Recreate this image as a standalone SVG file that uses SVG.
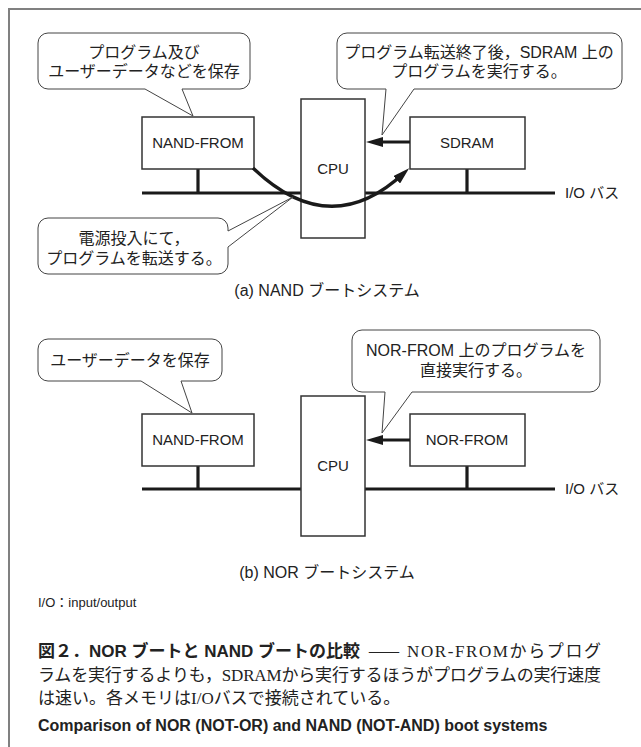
<svg xmlns="http://www.w3.org/2000/svg" width="641" height="747" viewBox="0 0 641 747">
<style>
.frame{stroke:#808080;stroke-width:2;fill:none}
.box{fill:#fff;stroke:#333;stroke-width:1.5}
.bus{stroke:#1a1a1a;stroke-width:3.2;fill:none}
.call{fill:#fff;stroke:#444;stroke-width:1}
.arr{stroke:#1a1a1a;stroke-width:3.2;fill:none}
.lbl{font-family:"Liberation Sans","Noto Sans CJK JP",sans-serif;font-size:15px;fill:#222}
.jt{font-family:"Liberation Sans","Noto Sans CJK JP",sans-serif;font-size:16px;fill:#222;text-anchor:middle}
.cap{font-family:"Liberation Sans","Noto Sans CJK JP",sans-serif;font-size:16px;fill:#222;text-anchor:middle}
.note{font-family:"Liberation Sans","Noto Sans CJK JP",sans-serif;font-size:13px;fill:#222}
.body{font-family:"Liberation Serif","Noto Sans CJK JP",serif;font-size:17px;fill:#222}
.hb{font-family:"Liberation Sans","Noto Sans CJK JP",sans-serif;font-weight:bold;font-size:17px;fill:#222}
.en{font-family:"Liberation Sans",sans-serif;font-weight:bold;font-size:16px;fill:#222}
</style>
<defs>
<marker id="ah" viewBox="0 0 17 10" markerWidth="17" markerHeight="10" refX="10" refY="5" orient="auto" markerUnits="userSpaceOnUse">
<path d="M0,0 L17,5 L0,10 z" fill="#1a1a1a"/>
</marker>
</defs>
<path class="frame" d="M641,9 H9 V747"/>

<!-- (a) NAND boot -->
<g id="bus-a">
<path class="bus" d="M142,193 H555 M198,168 V193 M467,168 V193"/>
<text class="lbl" x="565" y="198">I/O バス</text>
</g>
<g id="nand-from-a"><rect class="box" x="142" y="117" width="112" height="52"/><text class="lbl" x="198" y="148" text-anchor="middle">NAND-FROM</text></g>
<g id="cpu-a"><rect class="box" x="301" y="99" width="64" height="139"/><text class="lbl" x="333" y="174" text-anchor="middle">CPU</text></g>
<g id="sdram-a"><rect class="box" x="410" y="117" width="115" height="52"/><text class="lbl" x="467" y="148" text-anchor="middle">SDRAM</text></g>
<g id="connectors-a">
<line class="arr" x1="410" y1="142" x2="373" y2="142" marker-end="url(#ah)"/>
<path class="arr" d="M253,168 Q330,242 404,173" marker-end="url(#ah)"/>
</g>
<g id="callout-a1">
<path class="call" d="M48,33 H240 A10,10 0 0 1 250,43 V79 A10,10 0 0 1 240,89 H182 L193,116 L145,89 H48 A10,10 0 0 1 38,79 V43 A10,10 0 0 1 48,33 Z"/>
<text class="jt" x="144" y="58">プログラム及び</text>
<text class="jt" x="144" y="77">ユーザーデータなどを保存</text>
</g>
<g id="callout-a2">
<path class="call" d="M347,33 H612 A10,10 0 0 1 622,43 V79 A10,10 0 0 1 612,89 H414 L382,135 L386,89 H347 A10,10 0 0 1 337,79 V43 A10,10 0 0 1 347,33 Z"/>
<text class="jt" x="479" y="58">プログラム転送終了後，SDRAM 上の</text>
<text class="jt" x="479" y="77">プログラムを実行する。</text>
</g>
<g id="callout-a3">
<path class="call" d="M48,218 H218 A10,10 0 0 1 228,228 V231 L293,197 L228,247 V264 A10,10 0 0 1 218,274 H48 A10,10 0 0 1 38,264 V228 A10,10 0 0 1 48,218 Z"/>
<text class="jt" x="134" y="244">電源投入にて，</text>
<text class="jt" x="134" y="264">プログラムを転送する。</text>
</g>
<text class="cap" x="327" y="296">(a) NAND ブートシステム</text>

<!-- (b) NOR boot -->
<g id="bus-b">
<path class="bus" d="M142,489 H555 M198,466 V489 M467,466 V489"/>
<text class="lbl" x="565" y="494">I/O バス</text>
</g>
<g id="nand-from-b"><rect class="box" x="142" y="414" width="112" height="52"/><text class="lbl" x="198" y="445" text-anchor="middle">NAND-FROM</text></g>
<g id="cpu-b"><rect class="box" x="301" y="396" width="64" height="140"/><text class="lbl" x="333" y="471" text-anchor="middle">CPU</text></g>
<g id="nor-from-b"><rect class="box" x="410" y="414" width="115" height="52"/><text class="lbl" x="467" y="445" text-anchor="middle">NOR-FROM</text></g>
<g id="connectors-b">
<line class="arr" x1="410" y1="440" x2="373" y2="440" marker-end="url(#ah)"/>
</g>
<g id="callout-b1">
<path class="call" d="M48,339 H212 A10,10 0 0 1 222,349 V371 A10,10 0 0 1 212,381 H181 L192,413 L141,381 H48 A10,10 0 0 1 38,371 V349 A10,10 0 0 1 48,339 Z"/>
<text class="jt" x="130" y="366">ユーザーデータを保存</text>
</g>
<g id="callout-b2">
<path class="call" d="M362,330 H590 A10,10 0 0 1 600,340 V382 A10,10 0 0 1 590,392 H412 L382,433 L385,392 H362 A10,10 0 0 1 352,382 V340 A10,10 0 0 1 362,330 Z"/>
<text class="jt" x="476" y="356">NOR-FROM 上のプログラムを</text>
<text class="jt" x="476" y="376">直接実行する。</text>
</g>
<text class="cap" x="327" y="578">(b) NOR ブートシステム</text>
<text class="note" x="38" y="607">I/O：input/output</text>

<!-- caption -->
<g id="caption">
<text class="hb" x="38" y="657">図２．NOR ブートと NAND ブートの比較</text>
<text class="body" x="369" y="656" textLength="30" lengthAdjust="spacingAndGlyphs">—</text>
<text class="body" x="407" y="657" textLength="194" lengthAdjust="spacing">NOR-FROMからプログ</text>
<text class="body" x="38" y="681" textLength="563" lengthAdjust="spacing">ラムを実行するよりも，SDRAMから実行するほうがプログラムの実行速度</text>
<text class="body" x="38" y="704">は速い。各メモリはI/Oバスで接続されている。</text>
<text class="en" x="38" y="731">Comparison of NOR (NOT-OR) and NAND (NOT-AND) boot systems</text>
</g>
</svg>
